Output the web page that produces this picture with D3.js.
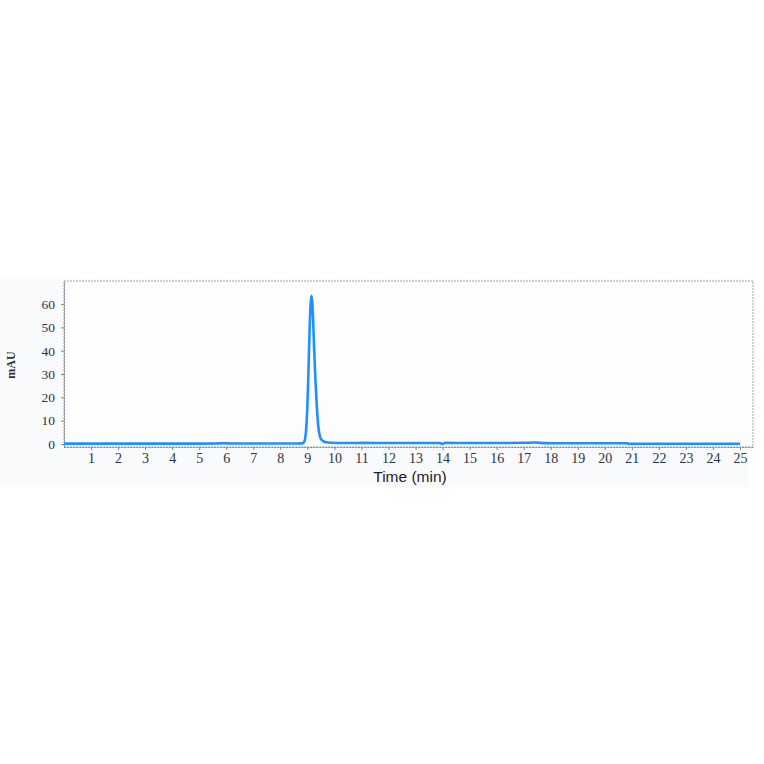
<!DOCTYPE html>
<html>
<head>
<meta charset="utf-8">
<script src="https://cdn.jsdelivr.net/npm/d3@7"></script>
<style>
  body { margin: 0; background: #fff; }
  svg { display: block; }
</style>
</head>
<body>
<div id="chart"></div>
<script>
// chromatogram trace (min, mAU)
const times = [
  0, 1, 2, 3, 4, 5, 5.6, 5.9, 6.2, 7, 8, 8.6, 8.8, 8.88, 8.92, 8.96, 9.0, 9.04,
  9.08, 9.12, 9.15, 9.18, 9.21, 9.25, 9.3, 9.35, 9.4, 9.45, 9.5, 9.6, 9.7, 9.85,
  10.5, 11, 12, 13, 13.9, 14.0, 14.1, 15, 16, 17, 17.4, 17.8, 18, 19, 20, 20.8,
  20.9, 22, 23, 24, 25
];
const mau = [
  0.15, 0.15, 0.15, 0.15, 0.15, 0.15, 0.2, 0.3, 0.2, 0.2, 0.2, 0.2, 0.25, 0.8, 2.5, 7, 16, 31,
  48, 60, 63.5, 61, 54, 41, 27, 16, 8, 4, 2.2, 1.1, 0.7, 0.5,
  0.4, 0.45, 0.4, 0.4, 0.4, 0.0, 0.45, 0.4, 0.4, 0.5, 0.6, 0.35, 0.3, 0.3, 0.3, 0.3,
  0.1, 0.1, 0.1, 0.1, 0.1
];
const xTicks = d3.range(1, 26);
const yTicks = [0, 10, 20, 30, 40, 50, 60];

const W = 764, H = 764;
const svg = d3.select("#chart").append("svg")
  .attr("width", W).attr("height", H);

// faint panel behind the whole figure
svg.append("rect")
  .attr("x", 0).attr("y", 279).attr("width", 748).attr("height", 208)
  .attr("fill", "#f9fafb");

const x = d3.scaleLinear().domain([0, 25.48]).range([64, 753]);
const y = d3.scaleLinear().domain([-1.3, 69.9]).range([447, 281]);

// plot area
svg.append("rect")
  .attr("x", x(0)).attr("y", y(69.9))
  .attr("width", x(25.48) - x(0)).attr("height", y(-1.3) - y(69.9))
  .attr("fill", "#fdfdfe")
  .attr("stroke", "#9aa6b2")
  .attr("stroke-width", 1)
  .attr("stroke-dasharray", "2,1");

const tickFont = "'Liberation Serif', 'DejaVu Serif', serif";

const xAxis = svg.append("g")
  .attr("transform", `translate(0,${y(-1.3)})`)
  .call(d3.axisBottom(x).tickValues(xTicks).tickSize(3).tickSizeOuter(0).tickPadding(3));
xAxis.select(".domain").attr("stroke", "#7d8894").attr("stroke-dasharray", "2,1");
xAxis.selectAll(".tick line").attr("stroke", "#7d8894");
xAxis.selectAll("text")
  .attr("font-family", tickFont).attr("font-size", 14).attr("fill", "#2b3440");

const yAxis = svg.append("g")
  .attr("transform", `translate(${x(0)},0)`)
  .call(d3.axisLeft(y).tickValues(yTicks).tickSize(3).tickSizeOuter(0).tickPadding(6));
yAxis.select(".domain").attr("stroke", "#7d8894").attr("stroke-dasharray", "2,1");
yAxis.selectAll(".tick line").attr("stroke", "#7d8894");
yAxis.selectAll("text")
  .attr("font-family", tickFont).attr("font-size", 13.5).attr("fill", "#2b3440");

// trace
const line = d3.line()
  .x((d, i) => x(times[i]))
  .y(d => y(d))
  .curve(d3.curveMonotoneX);

svg.append("path")
  .datum(mau)
  .attr("d", line)
  .attr("fill", "none")
  .attr("stroke", "#1e90ff")
  .attr("stroke-width", 2.6)
  .attr("stroke-linejoin", "round");

// axis titles
svg.append("text")
  .attr("x", 410).attr("y", 482)
  .attr("text-anchor", "middle")
  .attr("font-family", "'Liberation Sans', Arial, sans-serif")
  .attr("font-size", 15.5)
  .attr("fill", "#222")
  .text("Time (min)");

svg.append("text")
  .attr("transform", "translate(15,365) rotate(-90)")
  .attr("text-anchor", "middle")
  .attr("font-family", tickFont)
  .attr("font-weight", "bold")
  .attr("font-size", 12)
  .attr("fill", "#2b3440")
  .text("mAU");
</script>
</body>
</html>
